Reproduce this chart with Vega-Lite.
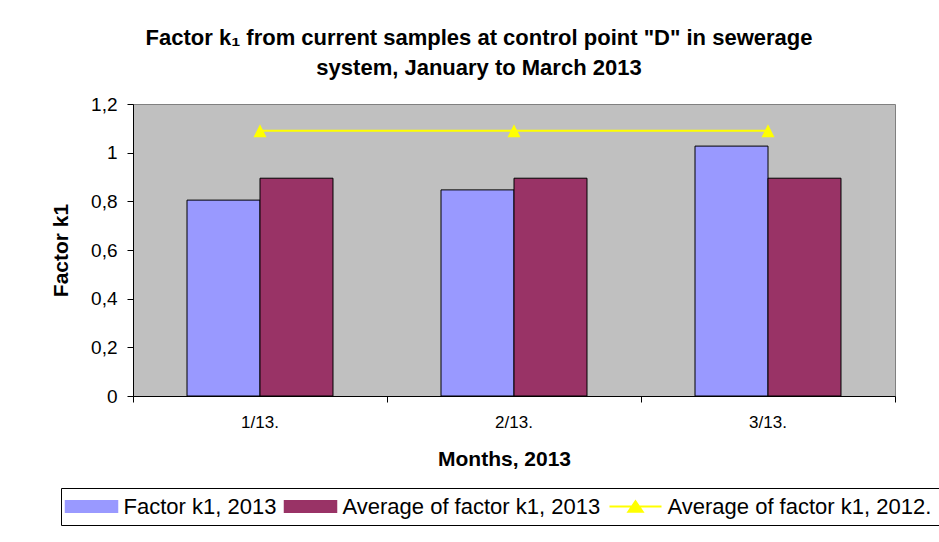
{
  "$schema": "https://vega.github.io/schema/vega-lite/v6.json",
  "width": 762,
  "height": 292,
  "autosize": "none",
  "padding": {"left": 133, "top": 104, "right": 44, "bottom": 146},
  "background": "white",
  "title": {
    "text": ["Factor k₁ from current samples at control point \"D\" in sewerage", "system, January to March 2013"],
    "anchor": "middle",
    "frame": "group",
    "font": "Liberation Sans",
    "fontSize": 22,
    "fontWeight": "bold",
    "color": "black",
    "lineHeight": 30,
    "offset": 15,
    "dx": -35
  },
  "datasets": {
    "bars": [
      {"month": "1/13.", "series": "Factor k1, 2013", "value": 0.805},
      {"month": "1/13.", "series": "Average of factor k1, 2013", "value": 0.895},
      {"month": "2/13.", "series": "Factor k1, 2013", "value": 0.847},
      {"month": "2/13.", "series": "Average of factor k1, 2013", "value": 0.895},
      {"month": "3/13.", "series": "Factor k1, 2013", "value": 1.027},
      {"month": "3/13.", "series": "Average of factor k1, 2013", "value": 0.895}
    ],
    "line": [
      {"month": "1/13.", "series": "Average of factor k1, 2012.", "value": 1.09},
      {"month": "2/13.", "series": "Average of factor k1, 2012.", "value": 1.09},
      {"month": "3/13.", "series": "Average of factor k1, 2012.", "value": 1.09}
    ]
  },
  "layer": [
    {
      "data": {"name": "bars"},
      "mark": {"type": "bar", "stroke": "black", "strokeWidth": 1},
      "encoding": {
        "x": {
          "field": "month", "type": "nominal", "sort": null,
          "scale": {"paddingInner": 0, "paddingOuter": 0},
          "axis": {
            "title": "Months, 2013",
            "labelAngle": 0,
            "bandPosition": 1,
            "tickExtra": true,
            "domainColor": "black",
            "tickColor": "black",
            "tickSize": 6,
            "labelPadding": 12,
            "labelFont": "Liberation Sans",
            "labelFontSize": 17,
            "labelColor": "black",
            "titleFont": "Liberation Sans",
            "titleFontSize": 21,
            "titleFontWeight": "bold",
            "titleColor": "black",
            "titleX": 371,
            "titleY": 52,
            "titleBaseline": "top",
            "titleAnchor": "start",
            "titleAlign": "center"
          }
        },
        "xOffset": {
          "field": "series", "type": "nominal",
          "scale": {"domain": ["Factor k1, 2013", "Average of factor k1, 2013"], "paddingInner": 0, "paddingOuter": 0.74}
        },
        "y": {
          "field": "value", "type": "quantitative",
          "scale": {"domain": [0, 1.2], "nice": false},
          "axis": {
            "title": "Factor k1",
            "values": [0, 0.2, 0.4, 0.6, 0.8, 1, 1.2],
            "labelExpr": "replace(format(datum.value, '~g'), '.', ',')",
            "grid": false,
            "domainColor": "black",
            "tickColor": "black",
            "tickSize": 6,
            "labelPadding": 10,
            "labelFont": "Liberation Sans",
            "labelFontSize": 19,
            "labelColor": "black",
            "titleFont": "Liberation Sans",
            "titleFontSize": 21,
            "titleFontWeight": "bold",
            "titleColor": "black",
            "titleAngle": 270,
            "titleX": -66,
            "titleY": 146,
            "titleBaseline": "alphabetic",
            "titleAlign": "center"
          }
        },
        "color": {
          "field": "series", "type": "nominal",
          "scale": {
            "domain": ["Factor k1, 2013", "Average of factor k1, 2013", "Average of factor k1, 2012."],
            "range": ["#9999FF", "#993366", "#FFFF00"]
          },
          "legend": {
            "title": null,
            "orient": "none",
            "legendX": -72,
            "legendY": 384,
            "direction": "horizontal",
            "padding": 7.5,
            "strokeColor": "black",
            "fillColor": "white",
            "labelFont": "Liberation Sans",
            "labelFontSize": 22,
            "labelColor": "black",
            "labelLimit": 400,
            "symbolSize": 676,
            "symbolOffset": 12,
            "labelOffset": 21,
            "columnPadding": 5,
            "symbolType": "M-2,-0.44H2V0.44H-2Z",
            "symbolStrokeColor": "black",
            "symbolStrokeWidth": 1.5,
            "encode": {
              "symbols": {
                "update": {
                  "shape": {"signal": "datum.value === 'Average of factor k1, 2012.' ? 'M-2,0H2M-0.55,0.4L0,-0.4L0.55,0.4Z' : 'M-2,-0.44H2V0.44H-2Z'"},
                  "stroke": {"signal": "datum.value === 'Average of factor k1, 2012.' ? '#FFFF00' : '#000000'"},
                  "strokeWidth": {"signal": "datum.value === 'Average of factor k1, 2012.' ? 2 : 1.5"},
                  "strokeOpacity": {"value": 1},
                  "fill": {"signal": "datum.value === 'Average of factor k1, 2012.' ? '#FFFF00' : datum.value === 'Factor k1, 2013' ? '#9999FF' : '#993366'"},
                  "fillOpacity": {"value": 1},
                  "opacity": {"value": 1}
                }
              }
            }
          }
        }
      }
    },
    {
      "data": {"name": "line"},
      "mark": {
        "type": "line",
        "strokeWidth": 2,
        "point": {"shape": "M0,-1L1,1L-1,1Z", "size": 169, "filled": true, "opacity": 1}
      },
      "encoding": {
        "x": {"field": "month", "type": "nominal", "sort": null},
        "y": {"field": "value", "type": "quantitative"},
        "color": {"field": "series", "type": "nominal", "legend": null}
      }
    }
  ],
  "config": {
    "view": {"fill": "#C0C0C0", "stroke": "#808080", "strokeWidth": 1},
    "font": "Liberation Sans"
  }
}
